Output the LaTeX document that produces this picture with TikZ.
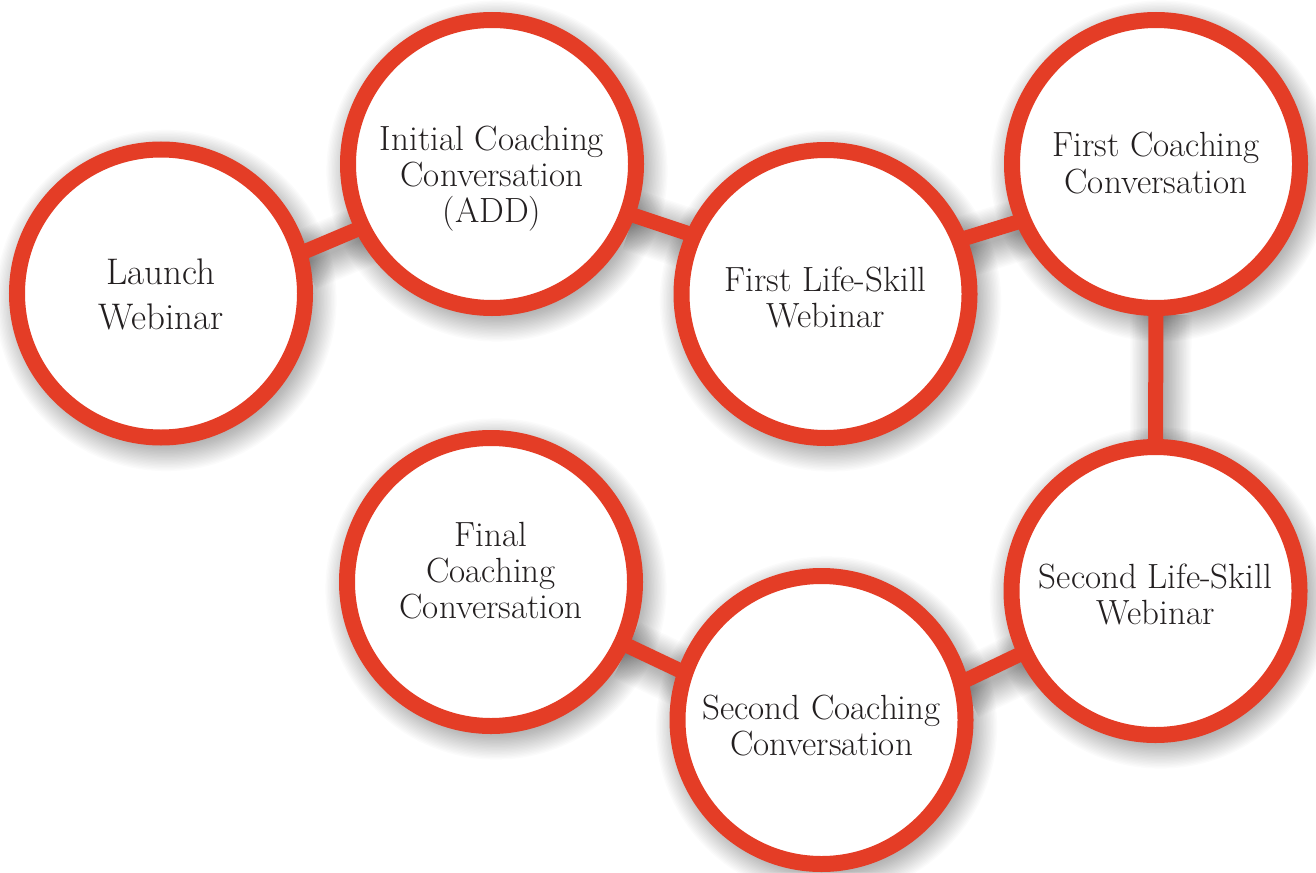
\documentclass[tikz,border=0pt]{standalone}
\usepackage{fontspec}
\usetikzlibrary{calc,backgrounds}
\definecolor{ringred}{RGB}{228,61,38}
\definecolor{inkblack}{RGB}{35,31,32}
\begin{document}
\begin{tikzpicture}[x=1pt,y=-1pt,
  stage/.style={circle, draw=ringred, line width=16pt, fill=white, minimum size=288pt, inner sep=0pt, outer sep=0pt},
  link/.style={draw=ringred, line width=15pt},
  lbl/.style={align=center, inner sep=0pt, anchor=base, text=inkblack, font=\fontsize{35}{36}\selectfont},
  biglbl/.style={lbl, font=\fontsize{37}{45}\selectfont},
  shade/.style={black, opacity=0.014}]
\useasboundingbox (0,0) rectangle (1316,872);
% circles
\node[stage] (L)   at (161,293.5) {};
\node[stage] (I)   at (492,164) {};
\node[stage] (F1)  at (825.5,294) {};
\node[stage] (C1)  at (1156,164) {};
\node[stage] (F2)  at (1155.5,591) {};
\node[stage] (C2)  at (821.5,720) {};
\node[stage] (Fin) at (491,582) {};
% labels (anchor = baseline of last line)
\node[biglbl] (tL)   at (161,329)   {Launch\\Webinar};
\node[lbl]    (tI)   at (492,222)   {Initial Coaching\\Conversation\\(ADD)};
\node[lbl]    (tF1)  at (825.5,327) {First Life-Skill\\Webinar};
\node[lbl]    (tC1)  at (1156,193)  {First Coaching\\Conversation};
\node[lbl]    (tF2)  at (1155.5,624){Second Life-Skill\\Webinar};
\node[lbl]    (tC2)  at (821.5,755) {Second Coaching\\Conversation};
\node[lbl]    (tFin) at (491,618)   {Final\\Coaching\\Conversation};
% connectors
\draw[link] (L.16)   -- (I.206);
\draw[link] (I.-20)  -- (F1.156);
\draw[link] (F1.22)  -- (C1.203);
\draw[link] (C1.-90) -- (F2.90);
\draw[link] (F2.205) -- (C2.15);
\draw[link] (C2.161) -- (Fin.-25);
% soft shadows
\begin{scope}[on background layer]
  \fill[white] (0,0) rectangle (1316,872);
  \foreach \n in {L,I,F1,C1,F2,C2,Fin}{
    \foreach \k in {0,...,19}{
      \fill[shade] ($(\n.center)+(5,7)$) circle ({144+\k*1.4});
    }
  }
  \foreach \a/\b in {L.16/I.206, I.-20/F1.156, F1.22/C1.203, C1.-90/F2.90, F2.205/C2.15, C2.161/Fin.-25}{
    \foreach \k in {0,...,19}{
      \draw[shade, line width={8pt+\k*2.8pt}] ($(\a)+(5,7)$) -- ($(\b)+(5,7)$);
    }
  }
\end{scope}
\end{tikzpicture}
\end{document}
